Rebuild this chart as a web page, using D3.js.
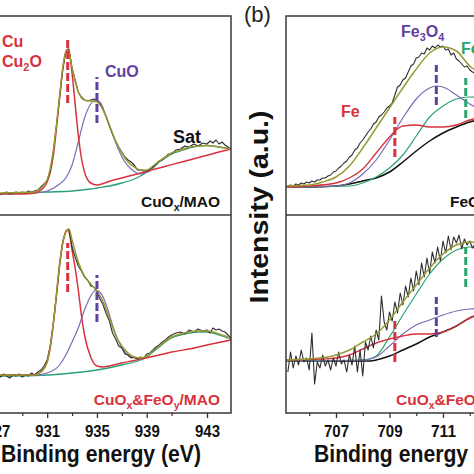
<!DOCTYPE html>
<html><head><meta charset="utf-8">
<script src="https://cdn.jsdelivr.net/npm/d3@7"></script>
<style>body{margin:0;background:#fff}svg{display:block}</style>
</head><body><svg id="c" width="474" height="474"></svg>
<script>
// ---------- DATA ----------
const cuE = [927,927.25,927.5,927.75,928,928.25,928.5,928.75,929,929.25,929.5,929.75,930,930.25,930.5,930.75,931,931.25,931.5,931.75,932,932.25,932.5,932.75,933,933.25,933.5,933.75,934,934.25,934.5,934.75,935,935.25,935.5,935.75,936,936.25,936.5,936.75,937,937.25,937.5,937.75,938,938.25,938.5,938.75,939,939.25,939.5,939.75,940,940.25,940.5,940.75,941,941.25,941.5,941.75,942,942.25,942.5,942.75,943,943.25,943.5,943.75,944,944.25,944.5,944.75,945];
const cuRawTop = [22,21,22,23,21,22,23,22,23,22,24,23, 24,25,28,31,35,44,64,90,118,146,163,166, 147,135,123,118,115,114,115,116,115,111,105,98, 89,81,74,68,63,58,55,53,50,45,45,44, 44,46,48,51,54,55,58,61,61,65,66,69, 68,71,69,72,71,74,72,75,71,73,70,68,66];
const cuRawBot = [38,36,39,37,35,38,37,39,36,38,37,40, 38,41,43,47,53,68,90,118,148,171,182,184, 166,156,147,142,136,133,127,126,121,114,108,99, 92,80,74,67,65,59,58,55,56,54,56,55, 59,60,63,66,68,71,73,76,78,80,81,79, 83,81,84,82,83,80,85,83,84,82,81,78,75];

const feE = [705.2,705.3,705.4,705.5,705.6,705.7,705.8,705.9,706,706.1,706.2,706.3,706.4,706.5,706.6,706.7,706.8,706.9,707,707.1,707.2,707.3,707.4,707.5,707.6,707.7,707.8,707.9,708,708.1,708.2,708.3,708.4,708.5,708.6,708.7,708.8,708.9,709,709.1,709.2,709.3,709.4,709.5,709.6,709.7,709.8,709.9,710,710.1,710.2,710.3,710.4,710.5,710.6,710.7,710.8,710.9,711,711.1,711.2,711.3,711.4,711.5,711.6,711.7,711.8,711.9,712,712.1,712.2];
const feRawTop = [29,30,29,31,30,32,31,33,32,34, 33,35,35,37,37,39,40,43,44,47, 49,52,54,58,60,65,67,72,75,79, 83,86,91,93,98,100,103,107,109,112, 120,128,130,135,137,143,149,151,157,158, 162,161,167,165,169,167,170,168,169,165, 166,160,162,156,154,151,148,149,145,143, 142];
const feRawBot = [41,61,45,57,48,63,51,55,43,80, 29,51,45,58,47,53,43,55,47,61, 49,53,41,58,48,67,41,63,37,71, 63,77,65,83,73,117,91,83,101,92, 111,100,120,108,127,116,135,122,142,128, 150,136,155,140,161,150,166,152,172,160, 177,163,176,170,178,164,174,168,172,165, 169];

// fitted curves [energy, intensity]
const cuTopBg  = [[927,21],[929,22],[931,23],[933,24],[934.5,26],[935,27],[936,29],[937,32],[938,36],[938.5,39],[939,43],[939.5,47],[940,53],[940.5,57],[941,61],[941.5,64],[942,67],[942.5,69],[943,69.5],[943.5,69],[944,68],[944.5,67],[945,66]];
const cuTopCu  = [[927,21],[929,21],[930,22],[930.5,25],[931,33],[931.25,43],[931.5,60],[931.75,87],[932,117],[932.25,145],[932.5,163],[932.65,166],[932.8,161],[933,142],[933.25,111],[933.5,80],[933.75,57],[934,43],[934.5,32],[935,30],[935.5,31.5],[936,33.7],[937,37],[938,40.3],[939,43.6],[940,47],[941,50.4],[942,55],[943,59.7],[944,63],[945,66]];
const cuTopCuO = [[927,21],[930,22],[931,24],[932,31],[932.5,37],[933,50],[933.5,73],[934,97],[934.5,111],[934.9,115],[935.3,112],[935.75,98],[936.25,81],[936.75,65],[937.25,53],[937.75,46],[938.5,41],[939.3,44]];
const cuTopEnv = [[927,22],[930,23],[930.5,27],[931,35],[931.5,65],[932,119],[932.25,147],[932.5,163],[932.7,165],[933,147],[933.5,123],[934,115],[934.5,114],[935,113],[935.5,105],[936,90],[936.5,74],[937,62],[937.5,53],[938,48],[938.5,45],[939,45],[939.5,49],[940,54],[940.5,58],[941,62],[941.5,65],[942,68],[942.5,69],[943,69.5],[943.5,69],[944,68],[944.5,67],[945,66]];

const cuBotBg  = [[927,37],[930,37.5],[933,40],[935,43],[937,48],[938.5,53],[939,56],[939.5,61],[940,66],[940.5,71],[941,75],[941.5,78],[942,80],[942.5,81],[943,81],[943.5,80],[944,78],[944.5,76],[945,74]];
const cuBotCu  = [[927,38],[930,38],[930.5,41],[931,51],[931.25,65],[931.5,90],[931.75,118],[932,148],[932.25,170],[932.5,181],[932.65,183],[932.8,179],[933,163],[933.25,145],[933.5,123],[933.75,98],[934,78],[934.5,56],[935,47],[935.5,46],[936,47],[937,50],[938,52.5],[939,55.3],[940,58],[941,61],[942,64],[943,68],[944,70.5],[945,73]];
const cuBotCuO = [[927,38],[930,38],[931,40],[932,48],[932.5,58],[933,71],[933.5,85],[934,103],[934.5,117],[934.9,123],[935.3,120],[935.75,108],[936.25,88],[936.75,71],[937.25,61],[937.75,56],[938.5,54],[939,55.3]];
const cuBotEnv = [[927,38],[930,38],[930.5,41],[931,51],[931.5,90],[932,149],[932.25,170],[932.5,181],[932.75,184],[933,173],[933.5,151],[934,137],[934.5,129],[935,122],[935.5,111],[936,95],[936.5,78],[937,67],[937.5,60],[938,56],[938.5,55],[939,57],[939.5,62],[940,67],[940.5,72],[941,76],[941.5,79],[942,81],[942.5,82],[943,82],[943.5,81],[944,79],[944.5,77],[945,74]];

const feTopBg   = [[705.13,28],[706,28],[707,29],[707.5,31],[708,34],[708.5,37],[709,43],[709.5,53],[710,64],[710.5,74],[711,82],[711.5,88],[712,93],[712.5,96]];
const feTopFe   = [[705.13,28],[706,29],[707,32],[707.5,37],[708,46],[708.5,62],[709,78],[709.25,85],[709.5,89],[710,90],[710.5,88],[711,88],[711.5,90],[712,95],[712.5,99]];
const feTopFe3O4= [[705.13,28],[707,29],[707.5,32],[708,41],[708.5,55],[709,75],[709.5,97],[710,116],[710.5,127],[710.75,129],[711,128],[711.5,120],[712,111],[712.5,104]];
const feTopFe2  = [[705.13,28],[707.5,29],[708,32],[708.5,38],[709,47],[709.5,60],[710,79],[710.5,98],[711,109],[711.5,116],[712,118],[712.5,117]];
const feTopEnv  = [[705.13,29],[706,30],[706.5,33],[707,38],[707.5,49],[708,67],[708.5,87],[709,107],[709.5,127],[710,146],[710.5,162],[711,168],[711.5,164],[712,149],[712.5,141]];

const feBotBg   = [[705.13,52],[708.3,52],[708.5,53],[709,57],[709.5,63],[710,69],[710.5,76],[711,81],[711.5,87],[712,95],[712.5,100]];
const feBotFe   = [[705.13,53],[706.5,54],[707,55],[707.5,58],[708,64],[708.5,70],[709,74],[709.5,77],[710,79],[710.5,79],[711,81],[711.5,87],[712,95],[712.5,100]];
const feBotFe3O4= [[705.13,52],[708,53],[708.5,56],[709,67],[709.5,79],[710,88],[710.5,93],[711,98],[711.5,102],[712,104],[712.5,105]];
const feBotFe2  = [[705.13,52],[708,53],[708.5,57],[709,76],[709.5,98],[710,119],[710.5,139],[711,154],[711.5,163],[712,166],[712.5,161]];
const feBotEnv  = [[705.13,53],[706,54],[707,58],[707.5,63],[708,71],[708.5,79],[709,93],[709.5,111],[710,128],[710.5,145],[711,159],[711.5,168],[712,171],[712.5,169]];

// peak markers [energy, from, to]
const cuMarkTop = [[932.65,112,178],[935.0,92,138]];
const cuMarkBot = [[932.65,121,170],[935.0,91,138]];
const feMarkTop = [[709.2,58,98],[710.75,110,150],[711.85,97,137]];
const feMarkBot = [[709.2,51,93],[710.75,76,116],[711.85,126,166]];

const cuTicks = [927,931,935,939,943], cuMinor = [929,933,937,941];
const feTicks = [707,709,711], feMinor = [706,708,710,712];

// ---------- STYLE ----------
const FONT = "'Liberation Sans', Arial, sans-serif";
const RED = "#d8323c", PURPLE = "#5f419f", PURPLE_L = "#7b6cb4", TEAL = "#2b9f7c", GREEN = "#2aa56f", OLIVE = "#999a33", DATA = "#2e2e2e";

const svg = d3.select("#c");
const xL = d3.scaleLinear().domain([927,941,943,945]).range([-2.6,171.6,207,231]);
const xR = d3.scaleLinear().domain([707,711]).range([336,443]);
const yTop = d3.scaleLinear().domain([0,199]).range([215,16]);
const yBot = d3.scaleLinear().domain([0,198]).range([413,215]);

const defs = svg.append("defs");
defs.append("clipPath").attr("id","clipL").append("rect").attr("x",-20).attr("y",16).attr("width",251).attr("height",397);
defs.append("clipPath").attr("id","clipR").append("rect").attr("x",286).attr("y",16).attr("width",200).attr("height",397);

function drawCurves(clip, x, y, list){
  const g = svg.append("g").attr("clip-path",`url(#${clip})`);
  list.forEach(s=>{
    const line = d3.line().x(d=>x(d[0])).y(d=>y(d[1])).curve(s.smooth? d3.curveMonotoneX : d3.curveLinear);
    g.append("path").attr("d",line(s.data)).attr("fill","none").attr("stroke",s.color).attr("stroke-width",s.w).attr("stroke-linejoin","round");
  });
}
function drawMarks(x, y, marks, colors){
  marks.forEach((m,i)=>{
    svg.append("line").attr("x1",x(m[0])).attr("x2",x(m[0])).attr("y1",y(m[1])).attr("y2",y(m[2]))
      .attr("stroke",colors[i]).attr("stroke-width",3).attr("stroke-dasharray","8,3");
  });
}

// Left panel curves
drawCurves("clipL", xL, yTop, [
  {data:cuTopBg,color:TEAL,w:1.3,smooth:1},
  {data:cuTopCuO,color:PURPLE_L,w:1.2,smooth:1},
  {data:cuTopCu,color:RED,w:1.5,smooth:1},
  {data:d3.zip(cuE,cuRawTop),color:DATA,w:1.1},
  {data:cuTopEnv,color:OLIVE,w:1.5,smooth:1}
]);
drawCurves("clipL", xL, yBot, [
  {data:cuBotBg,color:TEAL,w:1.3,smooth:1},
  {data:cuBotCuO,color:PURPLE_L,w:1.2,smooth:1},
  {data:cuBotCu,color:RED,w:1.5,smooth:1},
  {data:d3.zip(cuE,cuRawBot),color:DATA,w:1.1},
  {data:cuBotEnv,color:OLIVE,w:1.5,smooth:1}
]);
drawCurves("clipR", xR, yTop, [
  {data:feTopBg,color:"#111",w:1.5,smooth:1},
  {data:feTopFe2,color:GREEN,w:1.2,smooth:1},
  {data:feTopFe3O4,color:PURPLE_L,w:1.2,smooth:1},
  {data:feTopFe,color:RED,w:1.4,smooth:1},
  {data:d3.zip(feE,feRawTop),color:DATA,w:1.1},
  {data:feTopEnv,color:OLIVE,w:1.5,smooth:1}
]);
drawCurves("clipR", xR, yBot, [
  {data:feBotBg,color:"#111",w:1.5,smooth:1},
  {data:feBotFe2,color:GREEN,w:1.2,smooth:1},
  {data:feBotFe3O4,color:PURPLE_L,w:1.2,smooth:1},
  {data:feBotFe,color:RED,w:1.4,smooth:1},
  {data:d3.zip(feE,feRawBot),color:DATA,w:1.1},
  {data:feBotEnv,color:OLIVE,w:1.5,smooth:1}
]);

drawMarks(xL, yTop, cuMarkTop, [RED, PURPLE]);
drawMarks(xL, yBot, cuMarkBot, [RED, PURPLE]);
drawMarks(xR, yTop, feMarkTop, [RED, PURPLE, GREEN]);
drawMarks(xR, yBot, feMarkBot, [RED, PURPLE, GREEN]);

// frames
const fr = svg.append("g").attr("stroke","#3a3a3a").attr("stroke-width",1.5).attr("fill","none");
fr.append("path").attr("d","M-10,16H231V413H-10M-10,215H231");
fr.append("path").attr("d","M490,16H286V413H490M286,215H490");

// axes
function axis(x, major, minor){
  const g = svg.append("g").attr("transform","translate(0,413)");
  g.call(d3.axisBottom(x).tickValues(major).tickSize(5).tickPadding(8).tickFormat(d3.format("d")));
  g.select(".domain").remove();
  g.selectAll(".tick line").attr("stroke","#333").attr("stroke-width",1.3);
  g.selectAll(".tick text").attr("font-family",FONT).attr("font-size",16).attr("font-weight","bold").attr("fill","#111")
    .attr("textLength",25).attr("lengthAdjust","spacingAndGlyphs");
  const m = svg.append("g").attr("transform","translate(0,413)");
  m.call(d3.axisBottom(x).tickValues(minor).tickSize(3).tickFormat(""));
  m.select(".domain").remove();
  m.selectAll(".tick line").attr("stroke","#333").attr("stroke-width",1.2);
}
axis(xL, cuTicks, cuMinor);
const axR = axis(xR, feTicks, feMinor);

// rich text helper
function rich(x, y, parts, opt){
  const t = svg.append("text").attr("x",x).attr("y",y).attr("font-family",FONT).attr("font-weight",opt.weight||"bold")
    .attr("font-size",opt.size).attr("fill",opt.color).attr("text-anchor",opt.anchor||"start");
  let shifted = false;
  parts.forEach(p=>{
    const sub = Array.isArray(p);
    const s = t.append("tspan").text(sub? p[0] : p);
    if(sub){ s.attr("font-size",opt.size*0.68).attr("dy",4); shifted = true; }
    else if(shifted){ s.attr("dy",-4); shifted = false; }
  });
  return t;
}
rich(2,47,["Cu"],{size:16,color:RED});
rich(2,67,["Cu",["2"],"O"],{size:16,color:RED});
rich(105,77,["CuO"],{size:16,color:PURPLE});
rich(173,143,["Sat"],{size:18,color:"#111"});
rich(220,207,["CuO",["x"],"/MAO"],{size:15.5,color:"#111",anchor:"end"});
rich(220,405,["CuO",["x"],"&FeO",["y"],"/MAO"],{size:15.5,color:RED,anchor:"end"});

rich(341,117,["Fe"],{size:16,color:RED});
rich(401,37,["Fe",["3"],"O",["4"]],{size:16,color:PURPLE});
rich(461,54,["Fe",["2"],"O",["3"]],{size:16,color:GREEN});
rich(450,207,["FeO",["y"],"/MAO"],{size:15.5,color:"#111"});
rich(396,405,["CuO",["x"],"&FeO",["y"],"/MAO"],{size:15.5,color:RED});

svg.append("text").attr("x",244).attr("y",22).attr("font-family",FONT).attr("font-size",22).attr("fill","#222").text("(b)");

svg.append("text").attr("transform","translate(268,207) rotate(-90)").attr("text-anchor","middle")
  .attr("font-family",FONT).attr("font-size",25).attr("font-weight","bold").attr("fill","#111")
  .attr("textLength",193).attr("lengthAdjust","spacingAndGlyphs").text("Intensity (a.u.)");

[1,314].forEach(x0=>{
  svg.append("text").attr("x",x0).attr("y",462).attr("font-family",FONT).attr("font-size",24).attr("font-weight","bold").attr("fill","#111")
    .attr("textLength",200).attr("lengthAdjust","spacingAndGlyphs").text("Binding energy (eV)");
});
</script></body></html>
